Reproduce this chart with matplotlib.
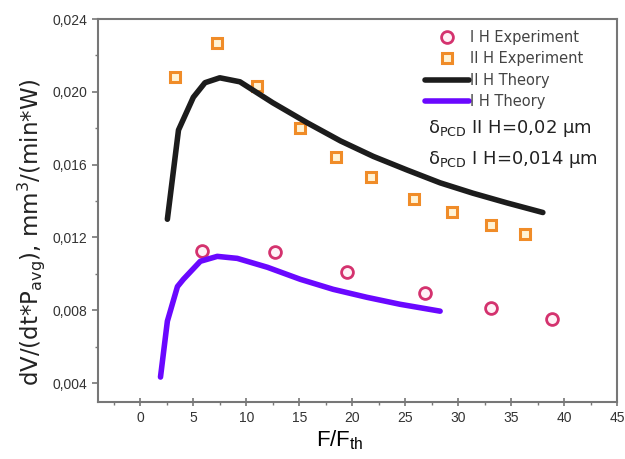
import matplotlib.pyplot as plt
from matplotlib.ticker import MultipleLocator, FuncFormatter

plt.rcParams['font.family'] = ['Liberation Sans', 'DejaVu Sans']

# II H experiment (squares)
x_sq = [3.3, 7.2, 11.0, 15.1, 18.5, 21.8, 25.8, 29.4, 33.1, 36.3]
y_sq = [0.0208, 0.0227, 0.0203, 0.0180, 0.0164, 0.0153, 0.0141, 0.0134, 0.0127, 0.0122]

# I H experiment (circles)
x_ci = [5.85, 12.7, 19.5, 26.9, 33.1, 38.9]
y_ci = [0.01123, 0.01120, 0.01008, 0.00893, 0.00811, 0.00751]

# II H theory
x_th2 = [2.55, 3.6, 5.0, 6.1, 7.5, 9.4, 12.5, 15.75, 18.9, 22.0, 25.2, 28.3, 31.4, 34.6, 38.0]
y_th2 = [0.0130, 0.0179, 0.0197, 0.0205, 0.02077, 0.02055, 0.0194, 0.0183, 0.0173, 0.01645,
         0.0157, 0.0150, 0.01443, 0.0139, 0.01337]

# I H theory
x_th1 = [1.9, 2.55, 3.5, 4.06, 5.66, 7.26, 9.15, 12.0, 15.1, 18.2, 21.4, 24.5, 28.3]
y_th1 = [0.00433, 0.0074, 0.0093, 0.0097, 0.01069, 0.01096, 0.01085, 0.01036, 0.0097, 0.00915,
         0.00871, 0.00833, 0.00795]

fig = plt.figure(figsize=(6.25, 4.59), dpi=100)
ax = fig.add_axes([98 / 625, 1 - 402 / 459, (617 - 98) / 625, (402 - 19) / 459])

ax.plot(x_ci, y_ci, 'o', ms=8.5, mfc='#fff2f6', mec='#d4326e', mew=2, label='I H Experiment')
ax.plot(x_sq, y_sq, 's', ms=7, mfc='#fff3d6', mec='#f08c28', mew=2.2, label='II H Experiment')
ax.plot(x_th2, y_th2, color='#1c1c1c', lw=4, solid_capstyle='round', label='II H Theory')
ax.plot(x_th1, y_th1, color='#6a08ff', lw=4, solid_capstyle='round', label='I H Theory')

ax.set_xlim(-4, 45)
ax.set_ylim(0.00296, 0.024)
ax.xaxis.set_major_locator(MultipleLocator(5))
ax.xaxis.set_minor_locator(MultipleLocator(2.5))
ax.yaxis.set_major_locator(MultipleLocator(0.004))
ax.yaxis.set_minor_locator(MultipleLocator(0.002))
ax.yaxis.set_major_formatter(FuncFormatter(lambda v, p: f'{v:.3f}'.replace('.', ',')))
ax.xaxis.set_major_formatter(FuncFormatter(lambda v, p: f'{v:.0f}'))

for s in ax.spines.values():
    s.set_color('#777777')
    s.set_linewidth(1.5)
ax.tick_params(which='major', direction='out', length=4, width=1.2, color='#777777',
               labelsize=10, labelcolor='#333333')
ax.tick_params(which='major', axis='x', direction='inout', length=6)
ax.tick_params(which='minor', direction='out', length=2, width=1, color='#777777')

ax.set_xlabel('F/F$_{\\mathregular{th}}$', fontsize=16)
ax.xaxis.set_label_coords(0.466, -0.07)
ax.set_ylabel('dV/(dt*P$_{\\mathregular{avg}}$), mm$^{\\mathregular{3}}$/(min*W)',
              fontsize=16.5, family='DejaVu Sans', color='#222222')
ax.yaxis.set_label_coords(-0.098, 0.443)

leg = ax.legend(loc='upper left', bbox_to_anchor=(0.63, 0.972), frameon=False,
                prop={'family': 'DejaVu Sans', 'size': 10.5},
                handlelength=3.0, handletextpad=0.1, labelspacing=0.45,
                borderpad=0, borderaxespad=0)
for t in leg.get_texts():
    t.set_color('#444444')

ax.text(0.636, 0.715, '$\\mathregular{\\delta_{PCD}}$ II H=0,02 µm', transform=ax.transAxes,
        fontsize=13, color='#222222', va='center', family='DejaVu Sans')
ax.text(0.636, 0.632, '$\\mathregular{\\delta_{PCD}}$ I H=0,014 µm', transform=ax.transAxes,
        fontsize=13, color='#222222', va='center', family='DejaVu Sans')

fig.savefig('out.png', dpi=100)
